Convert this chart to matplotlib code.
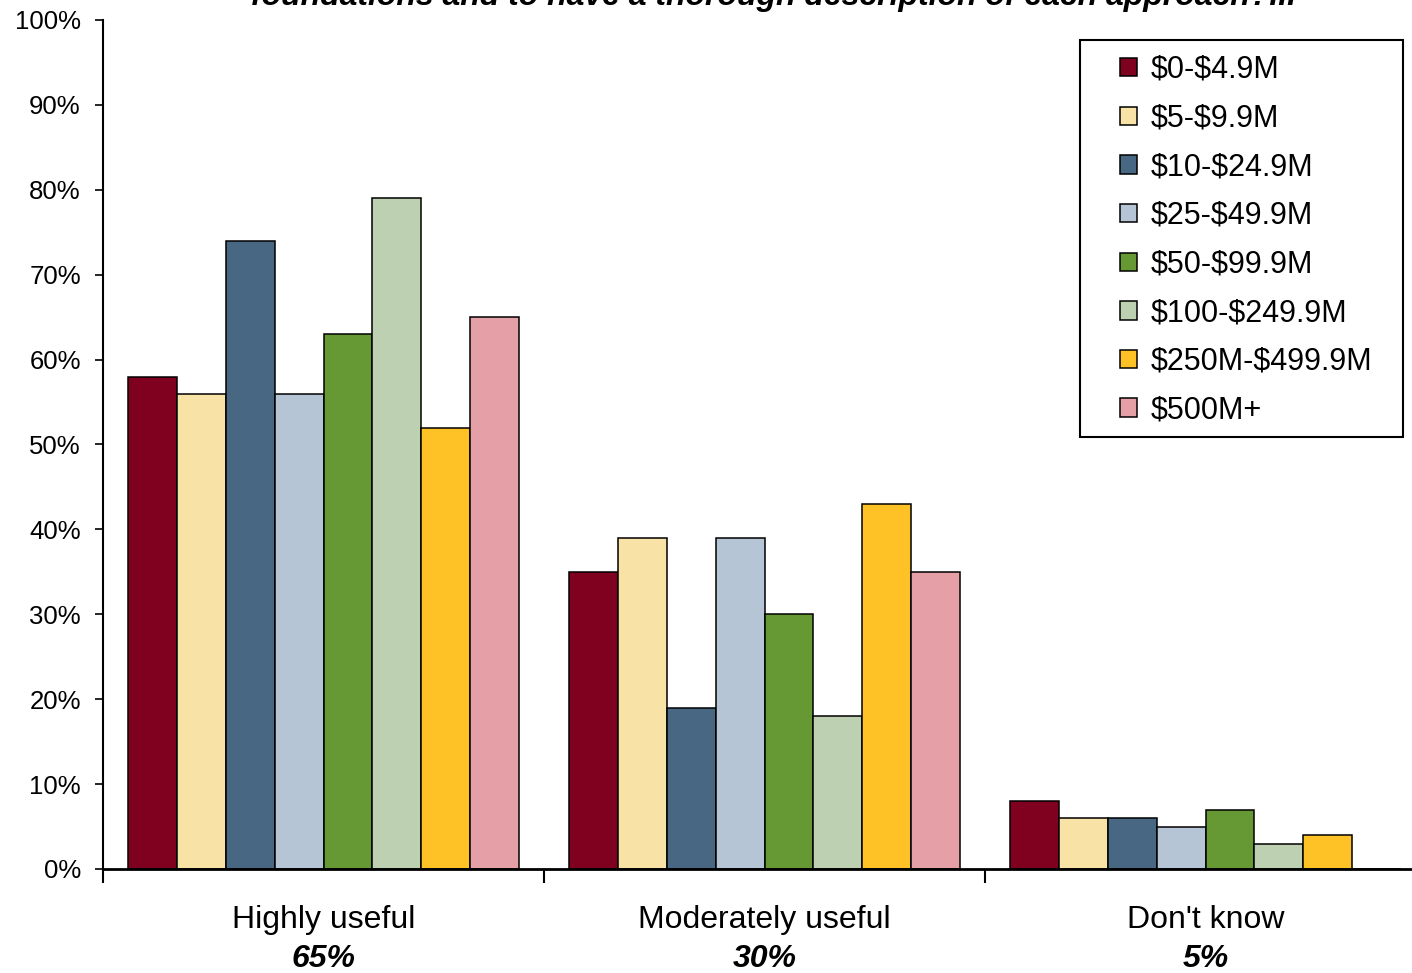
import numpy as np
import matplotlib.pyplot as plt
from matplotlib.patches import Rectangle
from matplotlib.transforms import blended_transform_factory

plt.rcParams['font.family'] = ['Liberation Sans', 'DejaVu Sans']

categories = ['Highly useful', 'Moderately useful', "Don't know"]
totals = ['65%', '30%', '5%']
series = [r'\$0-\$4.9M', r'\$5-\$9.9M', r'\$10-\$24.9M', r'\$25-\$49.9M', r'\$50-\$99.9M',
          r'\$100-\$249.9M', r'\$250M-\$499.9M', r'\$500M+']
values = [
    [58, 35, 8],
    [56, 39, 6],
    [74, 19, 6],
    [56, 39, 5],
    [63, 30, 7],
    [79, 18, 3],
    [52, 43, 4],
    [65, 35, 0],
]
colors = ['#800020', '#F9E2A5', '#486782', '#B5C5D5', '#669933',
          '#BDD0B2', '#FEC126', '#E59FA6']

W, H = 1412, 973
fig = plt.figure(figsize=(W / 100, H / 100), dpi=100)
ax = fig.add_axes([103 / W, 1 - 869 / H, 1 - 103 / W, (869 - 20) / H])

x = np.arange(len(categories))
w = 0.111
for i, (name, vals, c) in enumerate(zip(series, values, colors)):
    ax.bar(x + (i - 3.5) * w, vals, w, color=c, edgecolor='black',
           linewidth=1.1, label=name)

ax.set_ylim(0, 100)
ax.set_xlim(-0.5, -0.5 + 1309 / 441)
ax.set_yticks(range(0, 101, 10))
ax.set_yticklabels([f'{v}%' for v in range(0, 101, 10)], fontsize=18.5)
ax.set_xticks([-0.5, 0.5, 1.5])
ax.set_xticklabels([])
ax.tick_params(axis='x', direction='out', length=10, width=1.5)
ax.tick_params(axis='y', direction='out', length=6, width=1.2, pad=10)
for s in ['top', 'right']:
    ax.spines[s].set_visible(False)
ax.spines['left'].set_linewidth(1.5)
ax.spines['bottom'].set_linewidth(2)

tr = blended_transform_factory(ax.transData, fig.transFigure)
for xi, cat, tot in zip(x, categories, totals):
    ax.text(xi, 1 - 920 / H, cat, transform=tr, ha='center', va='center',
            fontsize=23)
    ax.text(xi, 1 - 959 / H, tot, transform=tr, ha='center', va='center',
            fontsize=23, fontweight='bold', fontstyle='italic')

# title is cut off at the top in the original
fig.text(773 / W, 1 - 5 / H, 'foundations and to have a thorough description of each approach?...',
         ha='center', va='baseline', fontsize=23, fontweight='bold',
         fontstyle='italic')

# legend box drawn by hand so the padding matches
fig.patches.append(Rectangle((1080 / W, 1 - 437 / H), (1403 - 1080) / W, (437 - 40) / H,
                             transform=fig.transFigure, facecolor='white',
                             edgecolor='black', linewidth=1.5, zorder=2))
leg = fig.legend(loc='upper left', bbox_to_anchor=(1120 / W, 1 - 55 / H),
                 fontsize=22, frameon=False,
                 handlelength=0.55, handleheight=0.55, handletextpad=0.45,
                 labelspacing=0.61, borderpad=0, borderaxespad=0)
leg.set_zorder(3)

fig.savefig('out.png', dpi=100)
